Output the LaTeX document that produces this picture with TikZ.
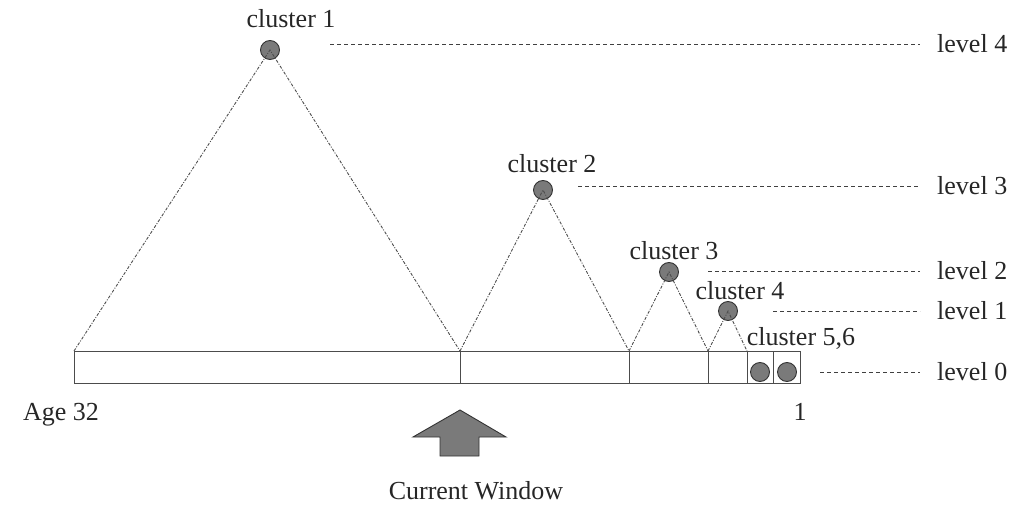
\documentclass[tikz,border=0pt]{standalone}
\usepackage{fontspec}
\setmainfont{Liberation Serif}
\begin{document}
\begin{tikzpicture}[x=1pt,y=-1pt,
  every node/.style={font=\fontsize{26}{30}\selectfont, text=black!85},
  seg/.style={draw=black!70, line width=1pt, minimum height=32pt, inner sep=0pt, anchor=west, outer sep=0pt},
  clus/.style={circle, draw=black!80, fill=black!52, line width=0.9pt, minimum size=19pt, inner sep=0pt},
  tri/.style={draw=black!70, line width=0.9pt, dash pattern=on 3pt off 1.5pt on 1pt off 1.5pt},
  lvl/.style={draw=black!75, line width=0.9pt, dash pattern=on 4pt off 3pt},
  lbl/.style={inner sep=0pt, anchor=base}]
\useasboundingbox (0,0) rectangle (1036,505);

% the time bar, split into windows
\node[seg, minimum width=386pt] (s1) at (74,367) {};
\node[seg, minimum width=169pt] (s2) at (460,367) {};
\node[seg, minimum width=79pt]  (s3) at (629,367) {};
\node[seg, minimum width=39pt]  (s4) at (708,367) {};
\node[seg, minimum width=26pt]  (s5) at (747,367) {};
\node[seg, minimum width=27pt]  (s6) at (773,367) {};

% cluster centres
\node[clus] (c1) at (270,50) {};
\node[clus] (c2) at (543,190) {};
\node[clus] (c3) at (669,272) {};
\node[clus] (c4) at (728,311) {};
\node[clus] (c5) at (760,372) {};
\node[clus] (c6) at (787,372) {};

% spans covered by each cluster
\draw[tri] (s1.north west) -- (c1.center) -- (s1.north east);
\draw[tri] (s2.north west) -- (c2.center) -- (s2.north east);
\draw[tri] (s3.north west) -- (c3.center) -- (s3.north east);
\draw[tri] (s4.north west) -- (c4.center) -- (s4.north east);

% cluster names
\node[lbl] (n1) at (291,28) {cluster 1};
\node[lbl] (n2) at (552,173) {cluster 2};
\node[lbl] (n3) at (674,259) {cluster 3};
\node[lbl] (n4) at (740,299) {cluster 4};
\node[lbl] (n5) at (801,345) {cluster 5,6};

% levels
\node[anchor=west, inner sep=0pt] (l4) at (937,44) {level 4};
\node[anchor=west, inner sep=0pt] (l3) at (937,186) {level 3};
\node[anchor=west, inner sep=0pt] (l2) at (937,271) {level 2};
\node[anchor=west, inner sep=0pt] (l1) at (937,311) {level 1};
\node[anchor=west, inner sep=0pt] (l0) at (937,372) {level 0};
\coordinate (d4) at (330,44);
\coordinate (d3) at (578,186);
\coordinate (d2) at (708,271);
\coordinate (d1) at (773,311);
\coordinate (d0) at (820,372);
\draw[lvl] (d4) -- ([xshift=-17pt]l4.west);
\draw[lvl] (d3) -- ([xshift=-17pt]l3.west);
\draw[lvl] (d2) -- ([xshift=-17pt]l2.west);
\draw[lvl] (d1) -- ([xshift=-17pt]l1.west);
\draw[lvl] (d0) -- ([xshift=-17pt]l0.west);

% ages at both ends
\node[lbl] (age) at (61,420) {Age 32};
\node[lbl] (one) at (800,420) {1};

% current window marker
\node[lbl] (cw) at (476,499) {Current Window};
\draw[draw=black!80, fill=black!52, line width=0.9pt]
  (460,410) -- (506,437) -- (479,437) -- (479,456) -- (440,456) -- (440,437) -- (413,437) -- cycle;
\end{tikzpicture}
\end{document}
